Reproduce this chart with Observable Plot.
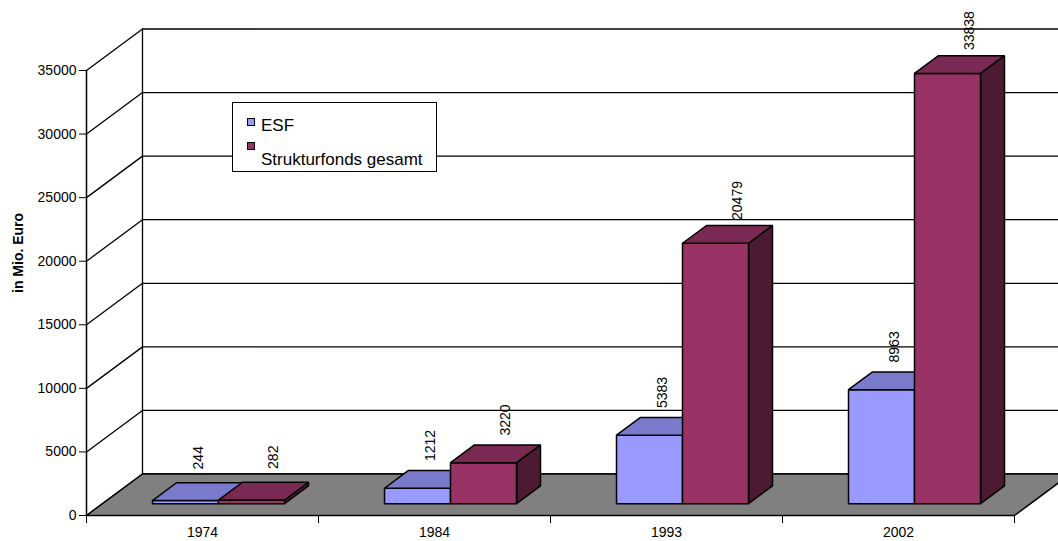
<!DOCTYPE html>
<html>
<head>
<meta charset="utf-8">
<script src="https://cdn.jsdelivr.net/npm/d3@7"></script>
<script src="https://cdn.jsdelivr.net/npm/@observablehq/plot@0.6"></script>
<style>
  body { margin: 0; background: #fff; font-family: "Liberation Sans", Arial, sans-serif; }
  #chart { position: relative; width: 1058px; height: 541px; overflow: hidden; }
  .legend-box { position: absolute; left: 232px; top: 102px; width: 205px; height: 70px;
    box-sizing: border-box; border: 1.5px solid #000; background: #fff; }
  .legend-key { position: absolute; width: 8px; height: 8px; box-sizing: border-box; border: 1px solid #000; }
  .legend-text { position: absolute; font-size: 17px; line-height: 17px; white-space: nowrap; color: #000; }
</style>
</head>
<body>
<div id="chart"></div>
<script>
// Funding of the European Social Fund vs. all structural funds (in million euro)
const years = ["1974", "1984", "1993", "2002"];
const esf = [244, 1212, 5383, 8963];
const strukturfonds = [282, 3220, 20479, 33838];
const seriesNames = ["ESF", "Strukturfonds gesamt"];
const yTicks = [0, 5000, 10000, 15000, 20000, 25000, 30000, 35000];
const yTitle = "in Mio. Euro";

// face colours: front, top, side
const esfColors = {front: "#9999FF", top: "#7A7ACC", side: "#4D4D80"};
const sfColors = {front: "#993366", top: "#7A2952", side: "#4D1A33"};

// 3-D projection: the chart box recedes up and to the right
const width = 1058, height = 541;
const marginLeft = 86, marginRight = 44, marginTop = 70, marginBottom = 26;
const yMax = 35000;
const bandPx = (width - marginLeft - marginRight) / years.length;
const depthPxX = 56, depthPxY = 41.5;
const depthX = depthPxX / bandPx;                                        // in category units
const depthY = depthPxY * yMax / (height - marginBottom - marginTop);   // in value units
const f0 = 2 / 7, f1 = 5 / 7;     // bars occupy the middle of the box depth
const barW = 66 / bandPx;         // bar width in category units

const pt = (x, v, f) => ({x: x + f * depthX, y: v + f * depthY});
const poly = (id, corners) => corners.map(([x, v, f]) => ({id, ...pt(x, v, f)}));

function boxFaces(values, s) {
  const front = [], top = [], side = [], labels = [];
  values.forEach((v, i) => {
    const x0 = i + 0.5 - barW + s * barW, x1 = x0 + barW;
    const id = years[i];
    front.push(...poly(id, [[x0, 0, f0], [x1, 0, f0], [x1, v, f0], [x0, v, f0]]));
    top.push(...poly(id, [[x0, v, f0], [x1, v, f0], [x1, v, f1], [x0, v, f1]]));
    side.push(...poly(id, [[x1, 0, f0], [x1, 0, f1], [x1, v, f1], [x1, v, f0]]));
    // value label anchored above the back edge of the top face
    const c = (x0 + x1) / 2;
    labels.push({x: c + f0 * depthX, y: v + f1 * depthY, text: String(v)});
  });
  return {front, top, side, labels};
}

const esfBox = boxFaces(esf, 0);
const sfBox = boxFaces(strukturfonds, 1);

// walls and floor
const n = years.length;
const backGrid = yTicks.flatMap(v => poly(v, [[0, v, 1], [n, v, 1]]));
const sideGrid = yTicks.flatMap(v => poly(v, [[0, v, 0], [0, v, 1]]));
const backEdge = poly("edge", [[0, 0, 1], [0, yMax, 1]]);
const floor = poly("floor", [[0, 0, 0], [n, 0, 0], [n, 0, 1], [0, 0, 1]]);

const faceMarks = (box, col) => [
  Plot.line(box.side, {x: "x", y: "y", z: "id", curve: "linear-closed", fill: col.side, stroke: "#000", strokeWidth: 1.5, strokeLinejoin: "miter"}),
  Plot.line(box.front, {x: "x", y: "y", z: "id", curve: "linear-closed", fill: col.front, stroke: "#000", strokeWidth: 1.5, strokeLinejoin: "miter"}),
  Plot.line(box.top, {x: "x", y: "y", z: "id", curve: "linear-closed", fill: col.top, stroke: "#000", strokeWidth: 1.5, strokeLinejoin: "miter"})
];

// rotated value labels, centred a fixed distance above the bar top
const labelMarks = (box, dx) => Plot.text(box.labels, {
  x: "x", y: "y", text: "text", rotate: -90, textAnchor: "middle",
  dx, dy: -25, fontSize: 14, fill: "#000"
});

const chart = Plot.plot({
  width, height, marginLeft, marginRight, marginTop, marginBottom,
  x: {type: "linear", domain: [0, n]},
  y: {type: "linear", domain: [0, yMax]},
  style: {fontFamily: "'Liberation Sans', Arial, sans-serif", fontSize: "14px", background: "#fff", color: "#000", overflow: "visible"},
  marks: [
    Plot.line(backGrid, {x: "x", y: "y", z: "id", stroke: "#000", strokeWidth: 1.3}),
    Plot.line(sideGrid, {x: "x", y: "y", z: "id", stroke: "#000", strokeWidth: 1.3}),
    Plot.line(backEdge, {x: "x", y: "y", z: "id", stroke: "#000", strokeWidth: 1.3}),
    Plot.line(floor, {x: "x", y: "y", z: "id", curve: "linear-closed", fill: "#808080", stroke: "#000", strokeWidth: 1.5, strokeLinejoin: "miter"}),
    ...faceMarks(esfBox, esfColors),
    ...faceMarks(sfBox, sfColors),
    labelMarks(esfBox, 13),
    labelMarks(sfBox, 22),
    Plot.ruleX([0], {stroke: "#000", strokeWidth: 1.5}),
    Plot.axisY({ticks: yTicks, tickSize: 7, tickPadding: 3, tickFormat: d3.format("d"), label: null, fontSize: 14}),
    Plot.axisX({ticks: d3.range(n + 1), tickSize: 8, tickFormat: () => "", label: null}),
    Plot.axisX({ticks: years.map((_, i) => i + 0.5), tickSize: 0, tickPadding: 12, tickFormat: d => years[Math.floor(d)], label: null, fontSize: 14}),
    Plot.text([yTitle], {frameAnchor: "left", rotate: -90, dx: -68, fontWeight: "bold", fontSize: 14, fill: "#000"})
  ]
});

const root = document.getElementById("chart");
root.appendChild(chart);

// legend inside the plot area
const legendBox = document.createElement("div");
legendBox.className = "legend-box";
root.appendChild(legendBox);
[[seriesNames[0], esfColors.front, 118, 117], [seriesNames[1], sfColors.front, 142, 151]].forEach(([name, color, keyTop, textTop]) => {
  const key = document.createElement("div");
  key.className = "legend-key";
  key.style.left = "247px";
  key.style.top = keyTop + "px";
  key.style.background = color;
  root.appendChild(key);
  const label = document.createElement("div");
  label.className = "legend-text";
  label.style.left = "261px";
  label.style.top = textTop + "px";
  label.textContent = name;
  root.appendChild(label);
});
</script>
</body>
</html>
